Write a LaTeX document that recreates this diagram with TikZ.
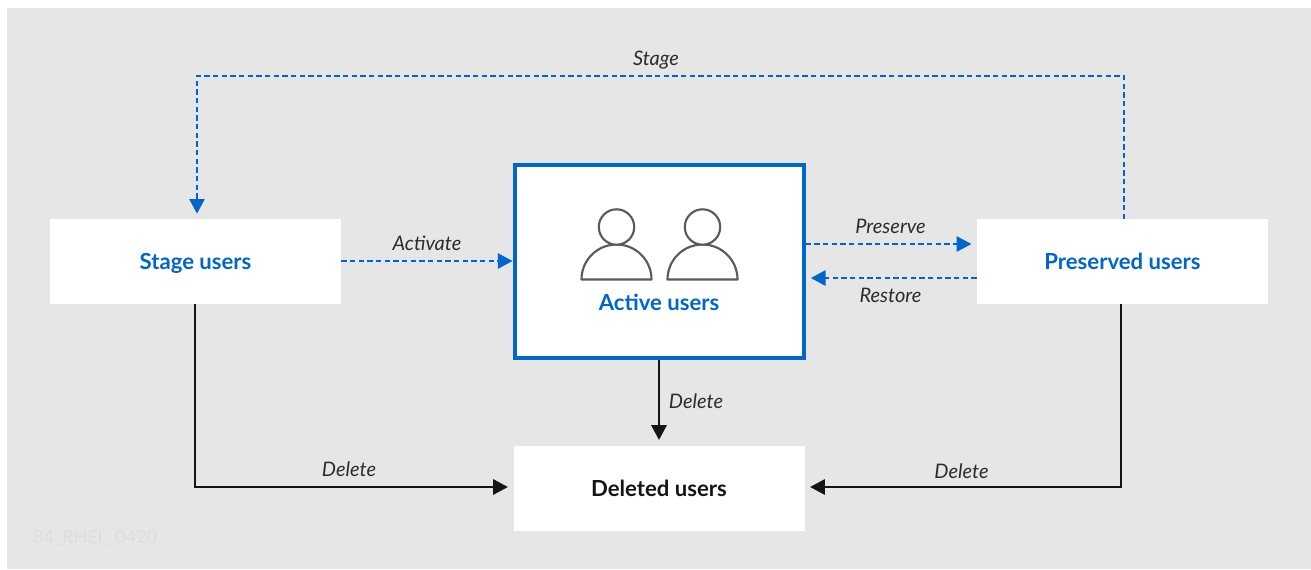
\documentclass[tikz,border=0pt]{standalone}
\usepackage{fontspec}
\setmainfont{Lato}
\usetikzlibrary{arrows.meta}
\definecolor{bggrey}{HTML}{E6E6E6}
\definecolor{rhblue}{HTML}{0066CC}
\definecolor{inkdark}{HTML}{151515}
\definecolor{icongrey}{HTML}{5A5A5A}
\definecolor{faintmark}{HTML}{DEDEDE}
\tikzset{
  x=0.75pt,y=-0.75pt,
  boxnode/.style={fill=white,draw=none,minimum width=218.25pt,minimum height=63.75pt,inner sep=0pt,text height=13pt,text depth=0.5pt,font=\fontsize{16.6}{20}\selectfont\bfseries},
  bluetext/.style={text=rhblue},
  flowdash/.style={draw=rhblue,line width=1.2pt,dash pattern=on 4pt off 2.5pt,-{Triangle[length=11pt,width=11.5pt,fill=rhblue]}},
  flowsolid/.style={draw=inkdark,line width=1.2pt,-{Triangle[length=11pt,width=11.5pt,fill=inkdark]}},
  verb/.style={font=\fontsize{15}{18}\selectfont\itshape,text=inkdark!90,inner sep=0pt},
  usericon/.style={draw=icongrey,line width=1.6pt,fill=white,line join=round}
}
\begin{document}
\begin{tikzpicture}
\useasboundingbox (0,0) rectangle (1311,569);
\fill[white] (0,0) rectangle (1311,569);
\fill[bggrey] (7,8) rectangle (1311,569);
\node[boxnode,bluetext] (stage) at (195.5,261) {Stage users};
\node[boxnode,bluetext] (preserved) at (1122.5,261) {Preserved users};
\node[boxnode,text=inkdark] (deleted) at (659,488) {Deleted users};
\node[fill=white,draw=rhblue,line width=3pt,minimum width=216.75pt,minimum height=144.75pt,inner sep=0pt] (active) at (659,261) {};
\node[font=\fontsize{16.6}{20}\selectfont\bfseries,text=rhblue,inner sep=0pt] (activelabel) at (659,302.5) {Active users};
\node[font=\fontsize{13.5}{16}\selectfont,text=faintmark,inner sep=0pt] (mark) at (95,538) {84\_RHEL\_0420};
% user icons
\draw[usericon] (581.5,279.5) arc[start angle=180,end angle=360,x radius=35,y radius=35] -- cycle;
\draw[usericon] (616.5,227) circle[radius=17.7];
\draw[usericon] (667.5,279.5) arc[start angle=180,end angle=360,x radius=35,y radius=35] -- cycle;
\draw[usericon] (702.5,227) circle[radius=17.7];
% connectors
\coordinate (stageTop) at (197,219);
\coordinate (presTop) at (1124,219);
\coordinate (stageBot) at (195,304);
\coordinate (presBot) at (1121,304);
\draw[flowdash,shorten >=4pt] (presTop) -- (1124,76) -- (197,76) -- (stageTop);
\draw[flowdash] (stage.east) -- (active.west);
\draw[flowdash,shorten >=4pt] (active.east |- 0,244) -- (preserved.west |- 0,244);
\draw[flowdash,shorten >=4pt] (preserved.west |- 0,278) -- (active.east |- 0,278);
\draw[flowsolid,shorten >=4pt] (active.south) -- (deleted.north);
\draw[flowsolid,shorten >=4pt] (stageBot) -- (195,487) -- (deleted.west |- 0,487);
\draw[flowsolid,shorten >=4pt] (presBot) -- (1121,487) -- (deleted.east |- 0,487);
% labels
\node[verb] (l1) at (656,60) {Stage};
\node[verb] (l2) at (427,243.5) {Activate};
\node[verb] (l3) at (890.5,226.5) {Preserve};
\node[verb] (l4) at (890.5,295) {Restore};
\node[verb] (l5) at (696,401.5) {Delete};
\node[verb] (l6) at (349,469.5) {Delete};
\node[verb] (l7) at (961.5,471.5) {Delete};
\end{tikzpicture}
\end{document}
